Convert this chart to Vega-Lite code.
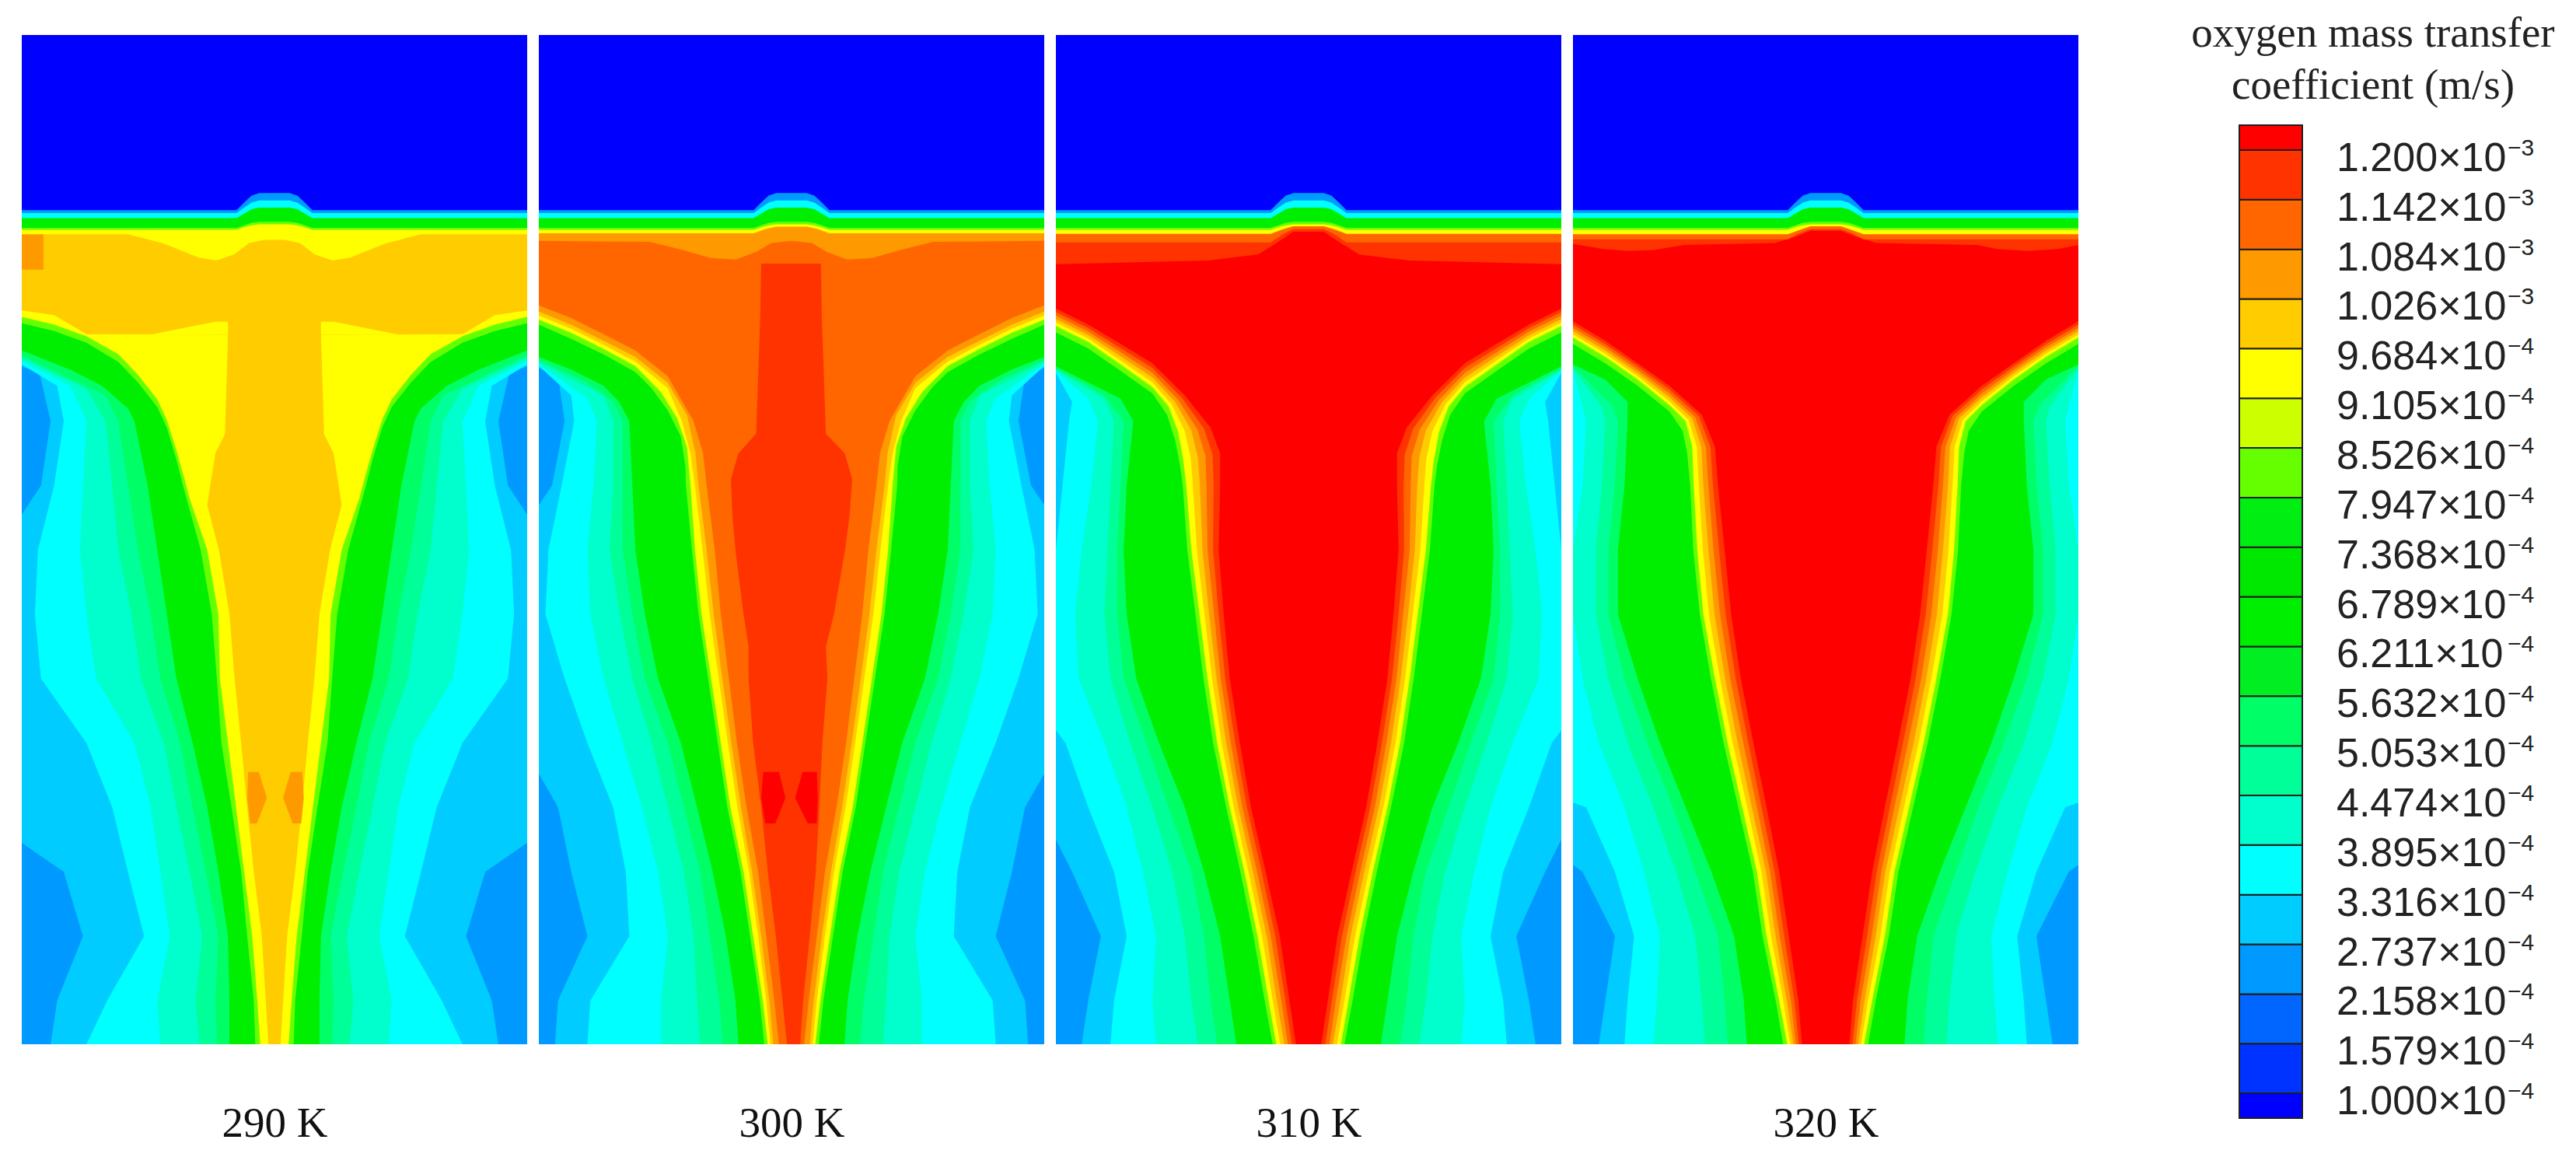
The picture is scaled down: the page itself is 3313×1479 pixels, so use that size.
{
"$schema":"https://vega.github.io/schema/vega-lite/v6.json",
"background":"white",
"padding":{"left":28,"top":16,"right":0,"bottom":0},
"autosize":{"type":"pad"},
"spacing":15,
"bounds":"flush",
"config":{"view":{"stroke":null}},
"datasets":{
"iface":[
{"c":13,"x":0,"l":161.4},{"c":13,"x":20,"l":161.4},{"c":13,"x":40,"l":161.4},{"c":13,"x":42.5,"l":161.4},{"c":13,"x":44,"l":161.9},{"c":13,"x":45.5,"l":162.3},{"c":13,"x":47,"l":162.5},{"c":13,"x":53,"l":162.5},{"c":13,"x":54.5,"l":162.3},{"c":13,"x":56,"l":161.9},{"c":13,"x":57.5,"l":161.4},{"c":13,"x":60,"l":161.4},{"c":13,"x":80,"l":161.4},{"c":13,"x":100,"l":161.4},
{"c":10,"x":0,"l":161.8},{"c":10,"x":20,"l":161.8},{"c":10,"x":40,"l":161.8},{"c":10,"x":42.5,"l":161.8},{"c":10,"x":44,"l":162.3},{"c":10,"x":45.5,"l":162.8},{"c":10,"x":47,"l":163.0},{"c":10,"x":53,"l":163.0},{"c":10,"x":54.5,"l":162.8},{"c":10,"x":56,"l":162.3},{"c":10,"x":57.5,"l":161.8},{"c":10,"x":60,"l":161.8},{"c":10,"x":80,"l":161.8},{"c":10,"x":100,"l":161.8},
{"c":5,"x":0,"l":163.7},{"c":5,"x":20,"l":163.7},{"c":5,"x":40,"l":163.7},{"c":5,"x":42.5,"l":163.7},{"c":5,"x":44,"l":164.6},{"c":5,"x":45.5,"l":165.5},{"c":5,"x":47,"l":165.8},{"c":5,"x":53,"l":165.8},{"c":5,"x":54.5,"l":165.5},{"c":5,"x":56,"l":164.6},{"c":5,"x":57.5,"l":163.7},{"c":5,"x":60,"l":163.7},{"c":5,"x":80,"l":163.7},{"c":5,"x":100,"l":163.7},
{"c":3,"x":0,"l":164.7},{"c":3,"x":20,"l":164.7},{"c":3,"x":40,"l":164.7},{"c":3,"x":42.5,"l":164.7},{"c":3,"x":44,"l":165.8},{"c":3,"x":45.5,"l":166.8},{"c":3,"x":47,"l":167.2},{"c":3,"x":53,"l":167.2},{"c":3,"x":54.5,"l":166.8},{"c":3,"x":56,"l":165.8},{"c":3,"x":57.5,"l":164.7},{"c":3,"x":60,"l":164.7},{"c":3,"x":80,"l":164.7},{"c":3,"x":100,"l":164.7},
{"c":0,"x":0,"l":165.3},{"c":0,"x":20,"l":165.3},{"c":0,"x":40,"l":165.3},{"c":0,"x":42.5,"l":165.3},{"c":0,"x":44,"l":166.8},{"c":0,"x":45.5,"l":168.2},{"c":0,"x":47,"l":168.7},{"c":0,"x":53,"l":168.7},{"c":0,"x":54.5,"l":168.2},{"c":0,"x":56,"l":166.8},{"c":0,"x":57.5,"l":165.3},{"c":0,"x":60,"l":165.3},{"c":0,"x":80,"l":165.3},{"c":0,"x":100,"l":165.3}
],
"v1":[
{"c":15,"x":0,"l":160.5},{"c":15,"x":21,"l":160.5},{"c":15,"x":28,"l":158.7},{"c":15,"x":35,"l":155.9},{"c":15,"x":38.5,"l":155.3},{"c":15,"x":42,"l":156.5},{"c":15,"x":45,"l":158.8},{"c":15,"x":48,"l":159.4},{"c":15,"x":52,"l":159.4},{"c":15,"x":55,"l":158.8},{"c":15,"x":58,"l":156.5},{"c":15,"x":61.5,"l":155.3},{"c":15,"x":65,"l":155.9},{"c":15,"x":72,"l":158.7},{"c":15,"x":79,"l":160.5},{"c":15,"x":100,"l":160.5}
],
"v2":[
{"c":17,"x":0,"l":159.2},{"c":17,"x":22,"l":159},{"c":17,"x":28,"l":157.5},{"c":17,"x":34,"l":155.8},{"c":17,"x":39,"l":155.5},{"c":17,"x":43,"l":157},{"c":17,"x":46,"l":158.8},{"c":17,"x":50,"l":159.2},{"c":17,"x":54,"l":158.8},{"c":17,"x":57,"l":157},{"c":17,"x":61,"l":155.5},{"c":17,"x":66,"l":155.8},{"c":17,"x":72,"l":157.5},{"c":17,"x":78,"l":159},{"c":17,"x":100,"l":159.2},
{"c":15,"x":0,"l":160.7},{"c":15,"x":42.5,"l":160.7},{"c":15,"x":45,"l":161.6},{"c":15,"x":47,"l":162},{"c":15,"x":53,"l":162},{"c":15,"x":55,"l":161.6},{"c":15,"x":57.5,"l":160.7},{"c":15,"x":100,"l":160.7}
],
"v3":[
{"c":19,"x":0,"l":154.6},{"c":19,"x":30,"l":155.3},{"c":19,"x":40,"l":156.5},{"c":19,"x":44,"l":159},{"c":19,"x":47,"l":161},{"c":19,"x":53,"l":161},{"c":19,"x":56,"l":159},{"c":19,"x":60,"l":156.5},{"c":19,"x":70,"l":155.3},{"c":19,"x":100,"l":154.6},
{"c":18,"x":0,"l":158.9},{"c":18,"x":42.5,"l":158.9},{"c":18,"x":45,"l":160.6},{"c":18,"x":47,"l":161.5},{"c":18,"x":53,"l":161.5},{"c":18,"x":55,"l":160.6},{"c":18,"x":57.5,"l":158.9},{"c":18,"x":100,"l":158.9},
{"c":15,"x":0,"l":160.6},{"c":15,"x":42.5,"l":160.6},{"c":15,"x":45,"l":161.5},{"c":15,"x":47,"l":162.1},{"c":15,"x":53,"l":162.1},{"c":15,"x":55,"l":161.5},{"c":15,"x":57.5,"l":160.6},{"c":15,"x":100,"l":160.6}
],
"v4":[
{"c":19,"x":0,"l":158.6},{"c":19,"x":6,"l":157.6},{"c":19,"x":11,"l":157.2},{"c":19,"x":16,"l":157.4},{"c":19,"x":22,"l":158.4},{"c":19,"x":40,"l":158.8},{"c":19,"x":44,"l":160},{"c":19,"x":47,"l":161.2},{"c":19,"x":53,"l":161.2},{"c":19,"x":56,"l":160},{"c":19,"x":60,"l":158.8},{"c":19,"x":80,"l":158.4},{"c":19,"x":84,"l":157.6},{"c":19,"x":90,"l":157.2},{"c":19,"x":96,"l":157.6},{"c":19,"x":100,"l":158.4},
{"c":18,"x":0,"l":159.5},{"c":18,"x":42.5,"l":159.5},{"c":18,"x":45,"l":160.8},{"c":18,"x":47,"l":161.5},{"c":18,"x":53,"l":161.5},{"c":18,"x":55,"l":160.8},{"c":18,"x":57.5,"l":159.5},{"c":18,"x":100,"l":159.5},
{"c":15,"x":0,"l":160.5},{"c":15,"x":42.5,"l":160.5},{"c":15,"x":45,"l":161.4},{"c":15,"x":47,"l":162.1},{"c":15,"x":53,"l":162.1},{"c":15,"x":55,"l":161.4},{"c":15,"x":57.5,"l":160.5},{"c":15,"x":100,"l":160.5}
],
"h1":[
{"c":3,"y":0,"a":0,"b":100},{"c":3,"y":162,"a":0,"b":100},
{"c":4,"y":140,"a":0,"b":100},{"c":4,"y":134.31,"a":0,"b":100},{"c":4,"y":133.04,"a":3.5,"b":96.5},{"c":4,"y":123.47,"a":5.7,"b":94.3},{"c":4,"y":110.71,"a":3.8,"b":96.2},{"c":4,"y":104.97,"a":0,"b":100},{"c":4,"y":39.92,"a":0,"b":100},{"c":4,"y":34.18,"a":8.3,"b":91.7},{"c":4,"y":21.43,"a":12.1,"b":87.9},{"c":4,"y":8.67,"a":7,"b":93},{"c":4,"y":0,"a":5.7,"b":94.3},
{"c":5,"y":140,"a":0,"b":100},{"c":5,"y":134.69,"a":0,"b":100},{"c":5,"y":130.48,"a":7,"b":93},{"c":5,"y":123.47,"a":8.3,"b":91.7},{"c":5,"y":110.71,"a":6.4,"b":93.6},{"c":5,"y":97.96,"a":3.2,"b":96.8},{"c":5,"y":85.2,"a":2.6,"b":97.4},{"c":5,"y":72.45,"a":3.8,"b":96.2},{"c":5,"y":59.69,"a":12.8,"b":87.2},{"c":5,"y":46.94,"a":17.9,"b":82.1},{"c":5,"y":34.18,"a":21,"b":79},{"c":5,"y":21.43,"a":24.2,"b":75.8},{"c":5,"y":8.67,"a":16.9,"b":83.1},{"c":5,"y":0,"a":12.8,"b":87.2},
{"c":6,"y":140,"a":0,"b":100},{"c":6,"y":135.46,"a":0,"b":100},{"c":6,"y":130.48,"a":9.6,"b":90.4},{"c":6,"y":123.47,"a":12.8,"b":87.2},{"c":6,"y":110.71,"a":12.1,"b":87.9},{"c":6,"y":97.96,"a":11.5,"b":88.5},{"c":6,"y":85.2,"a":12.8,"b":87.2},{"c":6,"y":72.45,"a":14.7,"b":85.3},{"c":6,"y":59.69,"a":22.3,"b":77.7},{"c":6,"y":46.94,"a":25.5,"b":74.5},{"c":6,"y":34.18,"a":27.4,"b":72.6},{"c":6,"y":21.43,"a":29.3,"b":70.7},{"c":6,"y":8.67,"a":26.8,"b":73.2},{"c":6,"y":0,"a":27.4,"b":72.6},
{"c":7,"y":140,"a":0,"b":100},{"c":7,"y":135.97,"a":0,"b":100},{"c":7,"y":129.85,"a":12.8,"b":87.2},{"c":7,"y":123.47,"a":16.6,"b":83.4},{"c":7,"y":110.71,"a":17.9,"b":82.1},{"c":7,"y":97.96,"a":19.1,"b":80.9},{"c":7,"y":85.2,"a":21.7,"b":78.3},{"c":7,"y":72.45,"a":23.6,"b":76.4},{"c":7,"y":59.69,"a":28.1,"b":71.9},{"c":7,"y":46.94,"a":30.6,"b":69.4},{"c":7,"y":34.18,"a":33.2,"b":66.8},{"c":7,"y":21.43,"a":35.7,"b":64.3},{"c":7,"y":8.67,"a":34.4,"b":65.6},{"c":7,"y":0,"a":35.1,"b":64.9},
{"c":8,"y":140,"a":0,"b":100},{"c":8,"y":136.48,"a":0,"b":100},{"c":8,"y":128.57,"a":16.6,"b":83.4},{"c":8,"y":123.47,"a":19.1,"b":80.9},{"c":8,"y":110.71,"a":21,"b":79},{"c":8,"y":97.96,"a":23,"b":77},{"c":8,"y":85.2,"a":25.5,"b":74.5},{"c":8,"y":72.45,"a":27.4,"b":72.6},{"c":8,"y":59.69,"a":31.3,"b":68.7},{"c":8,"y":46.94,"a":33.8,"b":66.2},{"c":8,"y":34.18,"a":36.4,"b":63.6},{"c":8,"y":21.43,"a":38.9,"b":61.1},{"c":8,"y":8.67,"a":38.3,"b":61.7},{"c":8,"y":0,"a":38.6,"b":61.4},
{"c":10,"y":162,"a":0,"b":100},{"c":10,"y":137.5,"a":0,"b":100},{"c":10,"y":133.67,"a":9.6,"b":90.4},{"c":10,"y":130.48,"a":15.9,"b":84.1},{"c":10,"y":126.02,"a":21,"b":79},{"c":10,"y":123.47,"a":22.3,"b":77.7},{"c":10,"y":110.71,"a":24.9,"b":75.1},{"c":10,"y":97.96,"a":26.8,"b":73.2},{"c":10,"y":85.2,"a":28.7,"b":71.3},{"c":10,"y":72.45,"a":30.6,"b":69.4},{"c":10,"y":59.69,"a":33.8,"b":66.2},{"c":10,"y":46.94,"a":36.7,"b":63.3},{"c":10,"y":34.18,"a":38.9,"b":61.1},{"c":10,"y":21.43,"a":40.8,"b":59.2},{"c":10,"y":8.67,"a":41.1,"b":58.9},{"c":10,"y":0,"a":41.1,"b":58.9},
{"c":13,"y":162,"a":0,"b":100},{"c":13,"y":142.86,"a":0,"b":100},{"c":13,"y":141.33,"a":6.4,"b":93.6},{"c":13,"y":139.03,"a":12.8,"b":87.2},{"c":13,"y":135.2,"a":19.1,"b":80.9},{"c":13,"y":131.12,"a":23,"b":77},{"c":13,"y":126.28,"a":26.8,"b":73.2},{"c":13,"y":122.19,"a":28.7,"b":71.3},{"c":13,"y":115.82,"a":30.6,"b":69.4},{"c":13,"y":110.71,"a":31.9,"b":68.1},{"c":13,"y":97.96,"a":35.4,"b":64.6},{"c":13,"y":85.2,"a":37.6,"b":62.4},{"c":13,"y":72.45,"a":38.6,"b":61.4},{"c":13,"y":59.69,"a":39.5,"b":60.5},{"c":13,"y":46.94,"a":41.5,"b":58.5},{"c":13,"y":34.18,"a":43.4,"b":56.6},{"c":13,"y":21.43,"a":44.6,"b":55.4},{"c":13,"y":8.67,"a":45.9,"b":54.1},{"c":13,"y":0,"a":46.2,"b":53.8},
{"c":15,"y":162,"a":0,"b":100},{"c":15,"y":144.13,"a":0,"b":100},{"c":15,"y":142.6,"a":6.4,"b":93.6},{"c":15,"y":140.31,"a":12.8,"b":87.2},{"c":15,"y":136.73,"a":19.1,"b":80.9},{"c":15,"y":132.65,"a":23,"b":77},{"c":15,"y":127.81,"a":26.8,"b":73.2},{"c":15,"y":123.72,"a":28.7,"b":71.3},{"c":15,"y":117.73,"a":30.6,"b":69.4},{"c":15,"y":111.99,"a":32.2,"b":67.8},{"c":15,"y":108.16,"a":33.2,"b":66.8},{"c":15,"y":97.96,"a":36.7,"b":63.3},{"c":15,"y":85.2,"a":38.9,"b":61.1},{"c":15,"y":72.45,"a":39.2,"b":60.8},{"c":15,"y":59.69,"a":40.8,"b":59.2},{"c":15,"y":46.94,"a":42.4,"b":57.6},{"c":15,"y":34.18,"a":44,"b":56},{"c":15,"y":21.43,"a":45.6,"b":54.4},{"c":15,"y":8.67,"a":46.6,"b":53.4},{"c":15,"y":0,"a":47.2,"b":52.8},
{"c":16,"y":162,"a":0,"b":100},{"c":16,"y":145.4,"a":0,"b":100},{"c":16,"y":144.5,"a":6.4,"b":93.6},{"c":16,"y":140.7,"a":12.8,"b":87.2},{"c":16,"y":140.6,"a":40.8,"b":59.2},{"c":16,"y":120.92,"a":40.2,"b":59.8},{"c":16,"y":117.09,"a":38.3,"b":61.7},{"c":16,"y":106.89,"a":36.7,"b":63.3},{"c":16,"y":97.96,"a":39,"b":61},{"c":16,"y":85.2,"a":41.1,"b":58.9},{"c":16,"y":72.45,"a":42.1,"b":57.9},{"c":16,"y":59.69,"a":43.4,"b":56.6},{"c":16,"y":46.94,"a":44.6,"b":55.4},{"c":16,"y":34.18,"a":45.9,"b":54.1},{"c":16,"y":21.43,"a":47.5,"b":52.5},{"c":16,"y":0,"a":48.8,"b":51.2},
{"c":15,"g":"L","y":143.2,"a":38.3,"b":40.8},{"c":15,"g":"L","y":140.65,"a":25.5,"b":40.8},
{"c":15,"g":"R","y":143.2,"a":59.2,"b":61.7},{"c":15,"g":"R","y":140.65,"a":59.2,"b":74.5},
{"c":17,"g":"o1","y":53.95,"a":44.8,"b":46.9},{"c":17,"g":"o1","y":48.85,"a":44.6,"b":48.5},{"c":17,"g":"o1","y":43.75,"a":45.2,"b":46.5},
{"c":17,"g":"o2","y":53.95,"a":53.2,"b":55.5},{"c":17,"g":"o2","y":48.85,"a":51.7,"b":55.8},{"c":17,"g":"o2","y":43.75,"a":53.6,"b":55.3},
{"c":17,"g":"o3","y":160.5,"a":0,"b":4.3},{"c":17,"g":"o3","y":153.5,"a":0,"b":4.3}
],
"h2":[
{"c":3,"y":0,"a":0,"b":100},{"c":3,"y":162,"a":0,"b":100},
{"c":4,"y":140,"a":0,"b":100},{"c":4,"y":134,"a":0,"b":100},{"c":4,"y":132.4,"a":3.8,"b":96.2},{"c":4,"y":123.5,"a":5.1,"b":94.9},{"c":4,"y":110.7,"a":2.6,"b":97.4},{"c":4,"y":106.9,"a":0,"b":100},{"c":4,"y":53.6,"a":0,"b":100},{"c":4,"y":46.94,"a":3.8,"b":96.2},{"c":4,"y":34.18,"a":6.4,"b":93.6},{"c":4,"y":21.43,"a":9.6,"b":90.4},{"c":4,"y":8.67,"a":3.8,"b":96.2},{"c":4,"y":0,"a":3.2,"b":96.8},
{"c":5,"y":140,"a":0,"b":100},{"c":5,"y":134.4,"a":0,"b":100},{"c":5,"y":128.6,"a":6.4,"b":93.6},{"c":5,"y":123.5,"a":7,"b":93},{"c":5,"y":110.7,"a":4.5,"b":95.5},{"c":5,"y":97.96,"a":1.9,"b":98.1},{"c":5,"y":85.2,"a":1.3,"b":98.7},{"c":5,"y":72.45,"a":5.1,"b":94.9},{"c":5,"y":59.69,"a":9.6,"b":90.4},{"c":5,"y":46.94,"a":14.7,"b":85.3},{"c":5,"y":34.18,"a":17.2,"b":82.8},{"c":5,"y":21.43,"a":17.9,"b":82.1},{"c":5,"y":8.67,"a":10.2,"b":89.8},{"c":5,"y":0,"a":9.6,"b":90.4},
{"c":6,"y":140,"a":0,"b":100},{"c":6,"y":134.8,"a":0,"b":100},{"c":6,"y":128,"a":9.6,"b":90.4},{"c":6,"y":123.5,"a":11.5,"b":88.5},{"c":6,"y":110.7,"a":10.8,"b":89.2},{"c":6,"y":97.96,"a":9.6,"b":90.4},{"c":6,"y":85.2,"a":10.2,"b":89.8},{"c":6,"y":72.45,"a":12.8,"b":87.2},{"c":6,"y":59.69,"a":16.6,"b":83.4},{"c":6,"y":46.94,"a":20.4,"b":79.6},{"c":6,"y":34.18,"a":23.6,"b":76.4},{"c":6,"y":21.43,"a":25.5,"b":74.5},{"c":6,"y":8.67,"a":24.2,"b":75.8},{"c":6,"y":0,"a":24.2,"b":75.8},
{"c":7,"y":140,"a":0,"b":100},{"c":7,"y":135.2,"a":0,"b":100},{"c":7,"y":128.6,"a":12.8,"b":87.2},{"c":7,"y":123.5,"a":14.7,"b":85.3},{"c":7,"y":110.7,"a":14.7,"b":85.3},{"c":7,"y":97.96,"a":14,"b":86},{"c":7,"y":85.2,"a":16,"b":84},{"c":7,"y":72.45,"a":18.5,"b":81.5},{"c":7,"y":59.69,"a":22.3,"b":77.7},{"c":7,"y":46.94,"a":25.5,"b":74.5},{"c":7,"y":34.18,"a":28.7,"b":71.3},{"c":7,"y":21.43,"a":30.6,"b":69.4},{"c":7,"y":8.67,"a":31.3,"b":68.7},{"c":7,"y":0,"a":31.9,"b":68.1},
{"c":8,"y":140,"a":0,"b":100},{"c":8,"y":135.6,"a":0,"b":100},{"c":8,"y":131.1,"a":9.6,"b":90.4},{"c":8,"y":127.3,"a":14.7,"b":85.3},{"c":8,"y":123.5,"a":16.6,"b":83.4},{"c":8,"y":110.7,"a":16.6,"b":83.4},{"c":8,"y":97.96,"a":16.6,"b":83.4},{"c":8,"y":85.2,"a":18.5,"b":81.5},{"c":8,"y":72.45,"a":21,"b":79},{"c":8,"y":59.69,"a":25.5,"b":74.5},{"c":8,"y":46.94,"a":28.7,"b":71.3},{"c":8,"y":34.18,"a":31.9,"b":68.1},{"c":8,"y":21.43,"a":33.8,"b":66.2},{"c":8,"y":8.67,"a":35.7,"b":64.3},{"c":8,"y":0,"a":36.4,"b":63.6},
{"c":10,"y":162,"a":0,"b":100},{"c":10,"y":136.2,"a":0,"b":100},{"c":10,"y":133.7,"a":6.4,"b":93.6},{"c":10,"y":130.5,"a":12.8,"b":87.2},{"c":10,"y":127.3,"a":15.9,"b":84.1},{"c":10,"y":123.5,"a":17.9,"b":82.1},{"c":10,"y":110.7,"a":18.5,"b":81.5},{"c":10,"y":97.96,"a":19.1,"b":80.9},{"c":10,"y":85.2,"a":21,"b":79},{"c":10,"y":72.45,"a":23.6,"b":76.4},{"c":10,"y":59.69,"a":28.1,"b":71.9},{"c":10,"y":46.94,"a":31.3,"b":68.7},{"c":10,"y":34.18,"a":34.4,"b":65.6},{"c":10,"y":21.43,"a":37,"b":63},{"c":10,"y":8.67,"a":38.9,"b":61.1},{"c":10,"y":0,"a":39.5,"b":60.5},
{"c":13,"y":162,"a":0,"b":100},{"c":13,"y":142.6,"a":0,"b":100},{"c":13,"y":139.8,"a":6.4,"b":93.6},{"c":13,"y":136.7,"a":12.8,"b":87.2},{"c":13,"y":133.2,"a":19.1,"b":80.9},{"c":13,"y":130,"a":22.3,"b":77.7},{"c":13,"y":125.6,"a":25.5,"b":74.5},{"c":13,"y":120.4,"a":28.1,"b":71.9},{"c":13,"y":114.5,"a":29,"b":71},{"c":13,"y":110.7,"a":29.1,"b":70.9},{"c":13,"y":97.96,"a":30.3,"b":69.7},{"c":13,"y":85.2,"a":31.6,"b":68.4},{"c":13,"y":72.45,"a":33.5,"b":66.5},{"c":13,"y":59.69,"a":35.4,"b":64.6},{"c":13,"y":46.94,"a":37.3,"b":62.7},{"c":13,"y":34.18,"a":39.9,"b":60.1},{"c":13,"y":21.43,"a":41.8,"b":58.2},{"c":13,"y":8.67,"a":43.7,"b":56.3},{"c":13,"y":0,"a":44.6,"b":55.4},
{"c":15,"y":162,"a":0,"b":100},{"c":15,"y":143.6,"a":0,"b":100},{"c":15,"y":141,"a":6.4,"b":93.6},{"c":15,"y":137.8,"a":12.8,"b":87.2},{"c":15,"y":134.4,"a":19.1,"b":80.9},{"c":15,"y":129.2,"a":24.2,"b":75.8},{"c":15,"y":124,"a":27.4,"b":72.6},{"c":15,"y":118.4,"a":29.3,"b":70.7},{"c":15,"y":110.7,"a":30,"b":70},{"c":15,"y":97.96,"a":30.9,"b":69.1},{"c":15,"y":85.2,"a":32.2,"b":67.8},{"c":15,"y":72.45,"a":34.1,"b":65.9},{"c":15,"y":59.69,"a":36,"b":64},{"c":15,"y":46.94,"a":37.9,"b":62.1},{"c":15,"y":34.18,"a":40.5,"b":59.5},{"c":15,"y":21.43,"a":42.4,"b":57.6},{"c":15,"y":8.67,"a":44.3,"b":55.7},{"c":15,"y":0,"a":45.3,"b":54.7},
{"c":16,"y":162,"a":0,"b":100},{"c":16,"y":144.4,"a":0,"b":100},{"c":16,"y":141.8,"a":6.4,"b":93.6},{"c":16,"y":138.6,"a":12.8,"b":87.2},{"c":16,"y":135.3,"a":19.1,"b":80.9},{"c":16,"y":130,"a":25.5,"b":74.5},{"c":16,"y":123.5,"a":28.3,"b":71.7},{"c":16,"y":117.1,"a":30,"b":70},{"c":16,"y":110.7,"a":30.9,"b":69.1},{"c":16,"y":97.96,"a":32.4,"b":67.6},{"c":16,"y":85.2,"a":33.8,"b":66.2},{"c":16,"y":72.45,"a":35.6,"b":64.4},{"c":16,"y":59.69,"a":37.4,"b":62.6},{"c":16,"y":46.94,"a":39.3,"b":60.7},{"c":16,"y":34.18,"a":41.6,"b":58.4},{"c":16,"y":21.43,"a":43.4,"b":56.6},{"c":16,"y":8.67,"a":45,"b":55},{"c":16,"y":0,"a":45.8,"b":54.2},
{"c":17,"y":162,"a":0,"b":100},{"c":17,"y":145.2,"a":0,"b":100},{"c":17,"y":142.6,"a":6.4,"b":93.6},{"c":17,"y":139.4,"a":12.8,"b":87.2},{"c":17,"y":136.2,"a":19.1,"b":80.9},{"c":17,"y":131.1,"a":25.5,"b":74.5},{"c":17,"y":124.7,"a":29.3,"b":70.7},{"c":17,"y":117.1,"a":31,"b":69},{"c":17,"y":110.7,"a":31.6,"b":68.4},{"c":17,"y":97.96,"a":33.2,"b":66.8},{"c":17,"y":85.2,"a":34.6,"b":65.4},{"c":17,"y":72.45,"a":36.3,"b":63.7},{"c":17,"y":59.69,"a":38.1,"b":61.9},{"c":17,"y":46.94,"a":40,"b":60},{"c":17,"y":34.18,"a":42.2,"b":57.8},{"c":17,"y":21.43,"a":44,"b":56},{"c":17,"y":8.67,"a":45.6,"b":54.4},{"c":17,"y":0,"a":46.4,"b":53.6},
{"c":18,"y":162,"a":0,"b":100},{"c":18,"y":146.4,"a":0,"b":100},{"c":18,"y":143.9,"a":6.4,"b":93.6},{"c":18,"y":140.7,"a":12.8,"b":87.2},{"c":18,"y":137.5,"a":19.1,"b":80.9},{"c":18,"y":132.4,"a":25.5,"b":74.5},{"c":18,"y":123.5,"a":30.6,"b":69.4},{"c":18,"y":117.1,"a":32.5,"b":67.5},{"c":18,"y":110.7,"a":33.2,"b":66.8},{"c":18,"y":97.96,"a":34.8,"b":65.2},{"c":18,"y":85.2,"a":36,"b":64},{"c":18,"y":72.45,"a":37.6,"b":62.4},{"c":18,"y":59.69,"a":39.2,"b":60.8},{"c":18,"y":46.94,"a":41.1,"b":58.9},{"c":18,"y":34.18,"a":43.4,"b":56.6},{"c":18,"y":21.43,"a":45,"b":55},{"c":18,"y":8.67,"a":46.6,"b":53.4},{"c":18,"y":0,"a":47.5,"b":52.5},
{"c":19,"y":154.7,"a":44,"b":55.8},{"c":19,"y":143.9,"a":43.8,"b":56},{"c":19,"y":121,"a":43,"b":56.8},{"c":19,"y":117.1,"a":39.5,"b":60.5},{"c":19,"y":111.99,"a":38,"b":62},{"c":19,"y":104.97,"a":38.3,"b":61.5},{"c":19,"y":97.96,"a":38.9,"b":60.6},{"c":19,"y":85.2,"a":40.5,"b":58.4},{"c":19,"y":78.83,"a":41.5,"b":56.8},{"c":19,"y":72.45,"a":41.5,"b":57.1},{"c":19,"y":59.69,"a":42.4,"b":56.1},{"c":19,"y":46.94,"a":44,"b":55.5},{"c":19,"y":34.18,"a":45.3,"b":54.8},{"c":19,"y":21.43,"a":46.9,"b":53.6},{"c":19,"y":8.67,"a":48.2,"b":52.3},{"c":19,"y":0,"a":49.1,"b":51.7},
{"c":20,"g":"r1","y":53.95,"a":44.4,"b":47.5},{"c":20,"g":"r1","y":48.85,"a":44,"b":48.8},{"c":20,"g":"r1","y":43.75,"a":44.8,"b":46.8},
{"c":20,"g":"r2","y":53.95,"a":52.2,"b":55},{"c":20,"g":"r2","y":48.85,"a":50.7,"b":55.2},{"c":20,"g":"r2","y":43.75,"a":53.2,"b":55}
],
"h3":[
{"c":3,"y":0,"a":0,"b":100},{"c":3,"y":162,"a":0,"b":100},
{"c":4,"y":140,"a":0,"b":100},{"c":4,"y":40.56,"a":0,"b":100},{"c":4,"y":34.18,"a":3.2,"b":96.8},{"c":4,"y":21.43,"a":8.9,"b":91.1},{"c":4,"y":8.67,"a":6.4,"b":93.6},{"c":4,"y":0,"a":5.1,"b":94.9},
{"c":5,"y":140,"a":0,"b":100},{"c":5,"y":133.04,"a":0,"b":100},{"c":5,"y":127.3,"a":3.2,"b":96.8},{"c":5,"y":123.47,"a":2.6,"b":97.4},{"c":5,"y":110.71,"a":1.3,"b":98.7},{"c":5,"y":97.96,"a":0,"b":100},{"c":5,"y":62.2,"a":0,"b":100},{"c":5,"y":59.69,"a":1.9,"b":98.1},{"c":5,"y":46.94,"a":6.4,"b":93.6},{"c":5,"y":34.18,"a":11.5,"b":88.5},{"c":5,"y":21.43,"a":14,"b":86},{"c":5,"y":8.67,"a":11.5,"b":88.5},{"c":5,"y":0,"a":10.8,"b":89.2},
{"c":6,"y":140,"a":0,"b":100},{"c":6,"y":133.42,"a":0,"b":100},{"c":6,"y":127.93,"a":6.4,"b":93.6},{"c":6,"y":123.47,"a":8.3,"b":91.7},{"c":6,"y":110.71,"a":7,"b":93},{"c":6,"y":97.96,"a":5.1,"b":94.9},{"c":6,"y":85.2,"a":3.8,"b":96.2},{"c":6,"y":72.45,"a":4.5,"b":95.5},{"c":6,"y":59.69,"a":9.6,"b":90.4},{"c":6,"y":46.94,"a":14,"b":86},{"c":6,"y":34.18,"a":17.2,"b":82.8},{"c":6,"y":21.43,"a":19.8,"b":80.2},{"c":6,"y":8.67,"a":19.1,"b":80.9},{"c":6,"y":0,"a":19.8,"b":80.2},
{"c":7,"y":140,"a":0,"b":100},{"c":7,"y":133.67,"a":0,"b":100},{"c":7,"y":127.93,"a":9.6,"b":90.4},{"c":7,"y":123.47,"a":11.5,"b":88.5},{"c":7,"y":110.71,"a":10.8,"b":89.2},{"c":7,"y":97.96,"a":10.2,"b":89.8},{"c":7,"y":85.2,"a":9.6,"b":90.4},{"c":7,"y":72.45,"a":10.8,"b":89.2},{"c":7,"y":59.69,"a":14.7,"b":85.3},{"c":7,"y":46.94,"a":19.1,"b":80.9},{"c":7,"y":34.18,"a":23,"b":77},{"c":7,"y":21.43,"a":25.5,"b":74.5},{"c":7,"y":8.67,"a":26.8,"b":73.2},{"c":7,"y":0,"a":28.1,"b":71.9},
{"c":8,"y":140,"a":0,"b":100},{"c":8,"y":133.93,"a":0,"b":100},{"c":8,"y":128.57,"a":9.6,"b":90.4},{"c":8,"y":123.47,"a":13.4,"b":86.6},{"c":8,"y":110.71,"a":12.8,"b":87.2},{"c":8,"y":97.96,"a":12.1,"b":87.9},{"c":8,"y":85.2,"a":12.1,"b":87.9},{"c":8,"y":72.45,"a":13.4,"b":86.6},{"c":8,"y":59.69,"a":17.9,"b":82.1},{"c":8,"y":46.94,"a":22.3,"b":77.7},{"c":8,"y":34.18,"a":26.8,"b":73.2},{"c":8,"y":21.43,"a":29.3,"b":70.7},{"c":8,"y":8.67,"a":30.6,"b":69.4},{"c":8,"y":0,"a":31.9,"b":68.1},
{"c":10,"y":162,"a":0,"b":100},{"c":10,"y":134.31,"a":0,"b":100},{"c":10,"y":131.12,"a":6.4,"b":93.6},{"c":10,"y":127.93,"a":12.8,"b":87.2},{"c":10,"y":123.47,"a":15.3,"b":84.7},{"c":10,"y":110.71,"a":14,"b":86},{"c":10,"y":97.96,"a":13.4,"b":86.6},{"c":10,"y":85.2,"a":14,"b":86},{"c":10,"y":72.45,"a":15.9,"b":84.1},{"c":10,"y":59.69,"a":20.4,"b":79.6},{"c":10,"y":46.94,"a":25.5,"b":74.5},{"c":10,"y":34.18,"a":29.3,"b":70.7},{"c":10,"y":21.43,"a":32.5,"b":67.5},{"c":10,"y":8.67,"a":34.4,"b":65.6},{"c":10,"y":0,"a":35.7,"b":64.3},
{"c":13,"y":162,"a":0,"b":100},{"c":13,"y":141.07,"a":0,"b":100},{"c":13,"y":137.88,"a":6.4,"b":93.6},{"c":13,"y":133.42,"a":12.8,"b":87.2},{"c":13,"y":128.95,"a":19.1,"b":80.9},{"c":13,"y":124.74,"a":22,"b":78},{"c":13,"y":119.64,"a":23.6,"b":76.4},{"c":13,"y":114.54,"a":24.6,"b":75.4},{"c":13,"y":110.71,"a":25.1,"b":74.9},{"c":13,"y":97.96,"a":26,"b":74},{"c":13,"y":85.2,"a":27.6,"b":72.4},{"c":13,"y":72.45,"a":29.2,"b":70.8},{"c":13,"y":59.69,"a":31.1,"b":68.9},{"c":13,"y":46.94,"a":33.7,"b":66.3},{"c":13,"y":34.18,"a":36.5,"b":63.5},{"c":13,"y":21.43,"a":39.1,"b":60.9},{"c":13,"y":8.67,"a":41.3,"b":58.7},{"c":13,"y":0,"a":42.9,"b":57.1},
{"c":15,"y":162,"a":0,"b":100},{"c":15,"y":142.35,"a":0,"b":100},{"c":15,"y":139.16,"a":6.4,"b":93.6},{"c":15,"y":134.69,"a":12.8,"b":87.2},{"c":15,"y":130.23,"a":19.1,"b":80.9},{"c":15,"y":126.4,"a":22.3,"b":77.7},{"c":15,"y":121.3,"a":24.2,"b":75.8},{"c":15,"y":115.82,"a":25.2,"b":74.8},{"c":15,"y":110.71,"a":25.8,"b":74.2},{"c":15,"y":97.96,"a":26.8,"b":73.2},{"c":15,"y":85.2,"a":28.4,"b":71.6},{"c":15,"y":72.45,"a":30,"b":70},{"c":15,"y":59.69,"a":31.9,"b":68.1},{"c":15,"y":46.94,"a":34.4,"b":65.6},{"c":15,"y":34.18,"a":37.3,"b":62.7},{"c":15,"y":21.43,"a":39.9,"b":60.1},{"c":15,"y":8.67,"a":42.1,"b":57.9},{"c":15,"y":0,"a":43.6,"b":56.4},
{"c":16,"y":162,"a":0,"b":100},{"c":16,"y":143.04,"a":0,"b":100},{"c":16,"y":139.85,"a":6.4,"b":93.6},{"c":16,"y":135.51,"a":12.8,"b":87.2},{"c":16,"y":131.17,"a":19.1,"b":80.9},{"c":16,"y":126.83,"a":22.9,"b":77.1},{"c":16,"y":121.48,"a":25.5,"b":74.5},{"c":16,"y":116.07,"a":26.7,"b":73.3},{"c":16,"y":110.71,"a":27.1,"b":72.9},{"c":16,"y":97.96,"a":27.9,"b":72.1},{"c":16,"y":85.2,"a":29.4,"b":70.6},{"c":16,"y":72.45,"a":30.9,"b":69.1},{"c":16,"y":59.69,"a":32.8,"b":67.2},{"c":16,"y":46.94,"a":35.2,"b":64.8},{"c":16,"y":34.18,"a":38.1,"b":61.9},{"c":16,"y":21.43,"a":40.8,"b":59.2},{"c":16,"y":8.67,"a":42.9,"b":57.1},{"c":16,"y":0,"a":44.4,"b":55.6},
{"c":17,"y":162,"a":0,"b":100},{"c":17,"y":143.73,"a":0,"b":100},{"c":17,"y":140.54,"a":6.4,"b":93.6},{"c":17,"y":136.33,"a":12.8,"b":87.2},{"c":17,"y":132.12,"a":19.1,"b":80.9},{"c":17,"y":127.27,"a":23.6,"b":76.4},{"c":17,"y":121.66,"a":26.8,"b":73.2},{"c":17,"y":116.33,"a":28.1,"b":71.9},{"c":17,"y":110.71,"a":28.5,"b":71.5},{"c":17,"y":97.96,"a":29,"b":71},{"c":17,"y":85.2,"a":30.3,"b":69.7},{"c":17,"y":72.45,"a":31.8,"b":68.2},{"c":17,"y":59.69,"a":33.7,"b":66.3},{"c":17,"y":46.94,"a":36.1,"b":63.9},{"c":17,"y":34.18,"a":39,"b":61},{"c":17,"y":21.43,"a":41.7,"b":58.3},{"c":17,"y":8.67,"a":43.7,"b":56.3},{"c":17,"y":0,"a":45.2,"b":54.8},
{"c":18,"y":162,"a":0,"b":100},{"c":18,"y":144.41,"a":0,"b":100},{"c":18,"y":141.22,"a":6.4,"b":93.6},{"c":18,"y":137.14,"a":12.8,"b":87.2},{"c":18,"y":133.06,"a":19.1,"b":80.9},{"c":18,"y":127.7,"a":24.2,"b":75.8},{"c":18,"y":121.83,"a":28,"b":72},{"c":18,"y":116.58,"a":29.6,"b":70.4},{"c":18,"y":110.71,"a":29.8,"b":70.2},{"c":18,"y":97.96,"a":30,"b":70},{"c":18,"y":85.2,"a":31.3,"b":68.7},{"c":18,"y":72.45,"a":32.6,"b":67.4},{"c":18,"y":59.69,"a":34.6,"b":65.4},{"c":18,"y":46.94,"a":36.9,"b":63.1},{"c":18,"y":34.18,"a":39.8,"b":60.2},{"c":18,"y":21.43,"a":42.5,"b":57.5},{"c":18,"y":8.67,"a":44.6,"b":55.4},{"c":18,"y":0,"a":45.9,"b":54.1},
{"c":19,"y":162,"a":0,"b":100},{"c":19,"y":145.1,"a":0,"b":100},{"c":19,"y":141.91,"a":6.4,"b":93.6},{"c":19,"y":137.96,"a":12.8,"b":87.2},{"c":19,"y":134.01,"a":19.1,"b":80.9},{"c":19,"y":128.14,"a":24.9,"b":75.1},{"c":19,"y":122.01,"a":29.3,"b":70.7},{"c":19,"y":116.84,"a":31,"b":69},{"c":19,"y":110.71,"a":31.2,"b":68.8},{"c":19,"y":97.96,"a":31.1,"b":68.9},{"c":19,"y":85.2,"a":32.2,"b":67.8},{"c":19,"y":72.45,"a":33.5,"b":66.5},{"c":19,"y":59.69,"a":35.5,"b":64.5},{"c":19,"y":46.94,"a":37.8,"b":62.2},{"c":19,"y":34.18,"a":40.7,"b":59.3},{"c":19,"y":21.43,"a":43.4,"b":56.6},{"c":19,"y":8.67,"a":45.4,"b":54.6},{"c":19,"y":0,"a":46.7,"b":53.3},
{"c":20,"y":162,"a":0,"b":100},{"c":20,"y":145.79,"a":0,"b":100},{"c":20,"y":142.6,"a":6.4,"b":93.6},{"c":20,"y":138.78,"a":12.8,"b":87.2},{"c":20,"y":134.95,"a":19.1,"b":80.9},{"c":20,"y":128.57,"a":25.5,"b":74.5},{"c":20,"y":122.19,"a":30.6,"b":69.4},{"c":20,"y":117.09,"a":32.5,"b":67.5},{"c":20,"y":110.71,"a":32.5,"b":67.5},{"c":20,"y":97.96,"a":32.2,"b":67.8},{"c":20,"y":85.2,"a":33.2,"b":66.8},{"c":20,"y":72.45,"a":34.4,"b":65.6},{"c":20,"y":59.69,"a":36.4,"b":63.6},{"c":20,"y":46.94,"a":38.6,"b":61.4},{"c":20,"y":34.18,"a":41.5,"b":58.5},{"c":20,"y":21.43,"a":44.3,"b":55.7},{"c":20,"y":8.67,"a":46.2,"b":53.8},{"c":20,"y":0,"a":47.5,"b":52.5}
],
"h4":[
{"c":3,"y":0,"a":0,"b":100},{"c":3,"y":162,"a":0,"b":100},
{"c":4,"y":140,"a":0,"b":100},{"c":4,"y":35.5,"a":0,"b":100},{"c":4,"y":34.18,"a":1.9,"b":98.1},{"c":4,"y":21.43,"a":8.3,"b":91.7},{"c":4,"y":8.67,"a":6.4,"b":93.6},{"c":4,"y":0,"a":5.1,"b":94.9},
{"c":5,"y":140,"a":0,"b":100},{"c":5,"y":47.9,"a":0,"b":100},{"c":5,"y":46.94,"a":2.6,"b":97.4},{"c":5,"y":34.18,"a":8.3,"b":91.7},{"c":5,"y":21.43,"a":12.1,"b":87.9},{"c":5,"y":8.67,"a":10.8,"b":89.2},{"c":5,"y":0,"a":10.2,"b":89.8},
{"c":6,"y":140,"a":0,"b":100},{"c":6,"y":133.54,"a":0,"b":100},{"c":6,"y":123.47,"a":2.6,"b":97.4},{"c":6,"y":110.71,"a":1.9,"b":98.1},{"c":6,"y":97.96,"a":0,"b":100},{"c":6,"y":85.2,"a":0,"b":100},{"c":6,"y":72.45,"a":1.9,"b":98.1},{"c":6,"y":59.69,"a":5.1,"b":94.9},{"c":6,"y":46.94,"a":10.2,"b":89.8},{"c":6,"y":34.18,"a":14,"b":86},{"c":6,"y":21.43,"a":17.2,"b":82.8},{"c":6,"y":8.67,"a":16.6,"b":83.4},{"c":6,"y":0,"a":15.9,"b":84.1},
{"c":7,"y":140,"a":0,"b":100},{"c":7,"y":133.93,"a":0,"b":100},{"c":7,"y":126.28,"a":5.7,"b":94.3},{"c":7,"y":123.47,"a":6.4,"b":93.6},{"c":7,"y":110.71,"a":5.7,"b":94.3},{"c":7,"y":97.96,"a":4.5,"b":95.5},{"c":7,"y":85.2,"a":4.5,"b":95.5},{"c":7,"y":72.45,"a":7,"b":93},{"c":7,"y":59.69,"a":10.8,"b":89.2},{"c":7,"y":46.94,"a":15.9,"b":84.1},{"c":7,"y":34.18,"a":20.4,"b":79.6},{"c":7,"y":21.43,"a":24.2,"b":75.8},{"c":7,"y":8.67,"a":25.5,"b":74.5},{"c":7,"y":0,"a":26.1,"b":73.9},
{"c":8,"y":140,"a":0,"b":100},{"c":8,"y":134.31,"a":0,"b":100},{"c":8,"y":126.66,"a":7.7,"b":92.3},{"c":8,"y":123.47,"a":8.9,"b":91.1},{"c":8,"y":110.71,"a":8.3,"b":91.7},{"c":8,"y":97.96,"a":7,"b":93},{"c":8,"y":85.2,"a":7,"b":93},{"c":8,"y":72.45,"a":10.2,"b":89.8},{"c":8,"y":59.69,"a":14.7,"b":85.3},{"c":8,"y":46.94,"a":19.8,"b":80.2},{"c":8,"y":34.18,"a":24.2,"b":75.8},{"c":8,"y":21.43,"a":28.7,"b":71.3},{"c":8,"y":8.67,"a":30,"b":70},{"c":8,"y":0,"a":30.6,"b":69.4},
{"c":10,"y":162,"a":0,"b":100},{"c":10,"y":134.69,"a":0,"b":100},{"c":10,"y":131.76,"a":6.4,"b":93.6},{"c":10,"y":127.3,"a":10.8,"b":89.2},{"c":10,"y":123.47,"a":10.8,"b":89.2},{"c":10,"y":110.71,"a":10.2,"b":89.8},{"c":10,"y":97.96,"a":8.9,"b":91.1},{"c":10,"y":85.2,"a":8.9,"b":91.1},{"c":10,"y":72.45,"a":12.8,"b":87.2},{"c":10,"y":59.69,"a":17.2,"b":82.8},{"c":10,"y":46.94,"a":22.3,"b":77.7},{"c":10,"y":34.18,"a":27.4,"b":72.6},{"c":10,"y":21.43,"a":31.9,"b":68.1},{"c":10,"y":8.67,"a":33.8,"b":66.2},{"c":10,"y":0,"a":34.4,"b":65.6},
{"c":13,"y":162,"a":0,"b":100},{"c":13,"y":138.78,"a":0,"b":100},{"c":13,"y":134.95,"a":6.4,"b":93.6},{"c":13,"y":130.48,"a":12.8,"b":87.2},{"c":13,"y":125.38,"a":19.1,"b":80.9},{"c":13,"y":121.56,"a":21.7,"b":78.3},{"c":13,"y":117.09,"a":22.6,"b":77.4},{"c":13,"y":110.71,"a":23.2,"b":76.8},{"c":13,"y":97.96,"a":23.8,"b":76.2},{"c":13,"y":85.2,"a":25.1,"b":74.9},{"c":13,"y":72.45,"a":27.3,"b":72.7},{"c":13,"y":59.69,"a":29.8,"b":70.2},{"c":13,"y":46.94,"a":32.7,"b":67.3},{"c":13,"y":34.18,"a":35.6,"b":64.4},{"c":13,"y":21.43,"a":37.5,"b":62.5},{"c":13,"y":8.67,"a":40.1,"b":59.9},{"c":13,"y":0,"a":41.6,"b":58.4},
{"c":15,"y":162,"a":0,"b":100},{"c":15,"y":140.05,"a":0,"b":100},{"c":15,"y":136.22,"a":6.4,"b":93.6},{"c":15,"y":131.76,"a":12.8,"b":87.2},{"c":15,"y":126.66,"a":19.1,"b":80.9},{"c":15,"y":123.47,"a":22.3,"b":77.7},{"c":15,"y":118.37,"a":23.6,"b":76.4},{"c":15,"y":110.71,"a":23.9,"b":76.1},{"c":15,"y":97.96,"a":24.6,"b":75.4},{"c":15,"y":85.2,"a":25.8,"b":74.2},{"c":15,"y":72.45,"a":28.1,"b":71.9},{"c":15,"y":59.69,"a":30.6,"b":69.4},{"c":15,"y":46.94,"a":33.5,"b":66.5},{"c":15,"y":34.18,"a":36.4,"b":63.6},{"c":15,"y":21.43,"a":38.3,"b":61.7},{"c":15,"y":8.67,"a":40.8,"b":59.2},{"c":15,"y":0,"a":42.4,"b":57.6},
{"c":16,"y":162,"a":0,"b":100},{"c":16,"y":140.69,"a":0,"b":100},{"c":16,"y":136.86,"a":6.4,"b":93.6},{"c":16,"y":132.4,"a":12.8,"b":87.2},{"c":16,"y":127.42,"a":19.1,"b":80.9},{"c":16,"y":123.72,"a":22.9,"b":77.1},{"c":16,"y":118.37,"a":24.5,"b":75.5},{"c":16,"y":110.71,"a":24.9,"b":75.1},{"c":16,"y":97.96,"a":25.7,"b":74.3},{"c":16,"y":85.2,"a":26.9,"b":73.1},{"c":16,"y":72.45,"a":29.1,"b":70.9},{"c":16,"y":59.69,"a":31.6,"b":68.4},{"c":16,"y":46.94,"a":34.5,"b":65.5},{"c":16,"y":34.18,"a":37.3,"b":62.7},{"c":16,"y":21.43,"a":39.2,"b":60.8},{"c":16,"y":8.67,"a":41.6,"b":58.4},{"c":16,"y":0,"a":43,"b":57},
{"c":17,"y":162,"a":0,"b":100},{"c":17,"y":141.33,"a":0,"b":100},{"c":17,"y":137.5,"a":6.4,"b":93.6},{"c":17,"y":133.04,"a":12.8,"b":87.2},{"c":17,"y":128.19,"a":19.1,"b":80.9},{"c":17,"y":123.98,"a":23.6,"b":76.4},{"c":17,"y":118.37,"a":25.4,"b":74.6},{"c":17,"y":110.71,"a":25.8,"b":74.2},{"c":17,"y":97.96,"a":26.8,"b":73.2},{"c":17,"y":85.2,"a":28,"b":72},{"c":17,"y":72.45,"a":30.1,"b":69.9},{"c":17,"y":59.69,"a":32.6,"b":67.4},{"c":17,"y":46.94,"a":35.4,"b":64.6},{"c":17,"y":34.18,"a":38.2,"b":61.8},{"c":17,"y":21.43,"a":40.1,"b":59.9},{"c":17,"y":8.67,"a":42.3,"b":57.7},{"c":17,"y":0,"a":43.6,"b":56.4},
{"c":18,"y":162,"a":0,"b":100},{"c":18,"y":141.96,"a":0,"b":100},{"c":18,"y":138.13,"a":6.4,"b":93.6},{"c":18,"y":133.67,"a":12.8,"b":87.2},{"c":18,"y":128.95,"a":19.1,"b":80.9},{"c":18,"y":124.23,"a":24.2,"b":75.8},{"c":18,"y":118.37,"a":26.3,"b":73.7},{"c":18,"y":110.71,"a":26.8,"b":73.2},{"c":18,"y":97.96,"a":27.8,"b":72.2},{"c":18,"y":85.2,"a":29.1,"b":70.9},{"c":18,"y":72.45,"a":31.1,"b":68.9},{"c":18,"y":59.69,"a":33.7,"b":66.3},{"c":18,"y":46.94,"a":36.4,"b":63.6},{"c":18,"y":34.18,"a":39,"b":61},{"c":18,"y":21.43,"a":40.9,"b":59.1},{"c":18,"y":8.67,"a":43.1,"b":56.9},{"c":18,"y":0,"a":44.1,"b":55.9},
{"c":19,"y":162,"a":0,"b":100},{"c":19,"y":142.6,"a":0,"b":100},{"c":19,"y":138.77,"a":6.4,"b":93.6},{"c":19,"y":134.31,"a":12.8,"b":87.2},{"c":19,"y":129.72,"a":19.1,"b":80.9},{"c":19,"y":124.49,"a":24.9,"b":75.1},{"c":19,"y":118.37,"a":27.2,"b":72.8},{"c":19,"y":110.71,"a":27.7,"b":72.3},{"c":19,"y":97.96,"a":28.9,"b":71.1},{"c":19,"y":85.2,"a":30.2,"b":69.8},{"c":19,"y":72.45,"a":32.2,"b":67.8},{"c":19,"y":59.69,"a":34.7,"b":65.3},{"c":19,"y":46.94,"a":37.3,"b":62.7},{"c":19,"y":34.18,"a":39.9,"b":60.1},{"c":19,"y":21.43,"a":41.8,"b":58.2},{"c":19,"y":8.67,"a":43.8,"b":56.2},{"c":19,"y":0,"a":44.7,"b":55.3},
{"c":20,"y":162,"a":0,"b":100},{"c":20,"y":143.24,"a":0,"b":100},{"c":20,"y":139.41,"a":6.4,"b":93.6},{"c":20,"y":134.95,"a":12.8,"b":87.2},{"c":20,"y":130.48,"a":19.1,"b":80.9},{"c":20,"y":124.74,"a":25.5,"b":74.5},{"c":20,"y":118.37,"a":28.1,"b":71.9},{"c":20,"y":110.71,"a":28.7,"b":71.3},{"c":20,"y":97.96,"a":30,"b":70},{"c":20,"y":85.2,"a":31.3,"b":68.7},{"c":20,"y":72.45,"a":33.2,"b":66.8},{"c":20,"y":59.69,"a":35.7,"b":64.3},{"c":20,"y":46.94,"a":38.3,"b":61.7},{"c":20,"y":34.18,"a":40.8,"b":59.2},{"c":20,"y":21.43,"a":42.7,"b":57.3},{"c":20,"y":8.67,"a":44.6,"b":55.4},{"c":20,"y":0,"a":45.3,"b":54.7}
],
"lg":[
{"c":0,"lo":-0.5,"hi":0},{"c":1,"lo":0,"hi":1},{"c":2,"lo":1,"hi":2},{"c":3,"lo":2,"hi":3},{"c":4,"lo":3,"hi":4},{"c":5,"lo":4,"hi":5},{"c":6,"lo":5,"hi":6},{"c":7,"lo":6,"hi":7},{"c":8,"lo":7,"hi":8},{"c":9,"lo":8,"hi":9},{"c":10,"lo":9,"hi":10},{"c":11,"lo":10,"hi":11},{"c":12,"lo":11,"hi":12},{"c":13,"lo":12,"hi":13},{"c":14,"lo":13,"hi":14},{"c":15,"lo":14,"hi":15},{"c":16,"lo":15,"hi":16},{"c":17,"lo":16,"hi":17},{"c":18,"lo":17,"hi":18},{"c":19,"lo":18,"hi":19},{"c":20,"lo":19,"hi":19.5}
],
"lb":[
{"u":19,"t":"1.200×10","e":"−3"},{"u":18,"t":"1.142×10","e":"−3"},{"u":17,"t":"1.084×10","e":"−3"},{"u":16,"t":"1.026×10","e":"−3"},
{"u":15,"t":"9.684×10","e":"−4"},{"u":14,"t":"9.105×10","e":"−4"},{"u":13,"t":"8.526×10","e":"−4"},{"u":12,"t":"7.947×10","e":"−4"},
{"u":11,"t":"7.368×10","e":"−4"},{"u":10,"t":"6.789×10","e":"−4"},{"u":9,"t":"6.211×10","e":"−4"},{"u":8,"t":"5.632×10","e":"−4"},
{"u":7,"t":"5.053×10","e":"−4"},{"u":6,"t":"4.474×10","e":"−4"},{"u":5,"t":"3.895×10","e":"−4"},{"u":4,"t":"3.316×10","e":"−4"},
{"u":3,"t":"2.737×10","e":"−4"},{"u":2,"t":"2.158×10","e":"−4"},{"u":1,"t":"1.579×10","e":"−4"},{"u":0,"t":"1.000×10","e":"−4"}
],
"tt":[{"u":21.08,"t":"oxygen mass transfer"},{"u":20.03,"t":"coefficient (m/s)"}]
},
"hconcat":[
{"width":650,"height":1298,"layer":[
{"data":{"name":"h1"},"mark":{"type":"area","orient":"horizontal","clip":true},"encoding":{"y":{"field":"y","type":"quantitative","scale":{"domain":[0,200],"nice":false,"zero":false},"axis":null},"x":{"field":"a","type":"quantitative","scale":{"domain":[0,100],"nice":false,"zero":false},"axis":{"title":"290 K","titleFont":"Liberation Serif","titleFontSize":55,"titleFontWeight":"normal","titleColor":"#111111","titlePadding":75,"labels":false,"ticks":false,"domain":false,"grid":false}},"x2":{"field":"b"},"color":{"field":"c","type":"ordinal","scale":{"domain":[0,1,2,3,4,5,6,7,8,9,10,11,12,13,14,15,16,17,18,19,20],"range":["#0000ff","#0033ff","#0066ff","#0099ff","#00ccff","#00ffff","#00ffcc","#00ff99","#00ff66","#00ee22","#00ee00","#00e800","#00ee11","#66ff00","#ccff00","#ffff00","#ffcc00","#ff9900","#ff6600","#ff3300","#ff0000"]},"legend":null},"detail":{"field":"g"}}},
{"data":{"name":"v1"},"mark":{"type":"area","orient":"vertical","clip":true},"encoding":{"x":{"field":"x","type":"quantitative","scale":{"domain":[0,100],"nice":false,"zero":false},"axis":{"title":"290 K","titleFont":"Liberation Serif","titleFontSize":55,"titleFontWeight":"normal","titleColor":"#111111","titlePadding":75,"labels":false,"ticks":false,"domain":false,"grid":false}},"y":{"field":"l","type":"quantitative","scale":{"domain":[0,200],"nice":false,"zero":false},"axis":null},"y2":{"datum":200},"color":{"field":"c","type":"ordinal","scale":{"domain":[0,1,2,3,4,5,6,7,8,9,10,11,12,13,14,15,16,17,18,19,20],"range":["#0000ff","#0033ff","#0066ff","#0099ff","#00ccff","#00ffff","#00ffcc","#00ff99","#00ff66","#00ee22","#00ee00","#00e800","#00ee11","#66ff00","#ccff00","#ffff00","#ffcc00","#ff9900","#ff6600","#ff3300","#ff0000"]},"legend":null},"detail":{"field":"g"}}},
{"data":{"name":"iface"},"mark":{"type":"area","orient":"vertical","clip":true},"encoding":{"x":{"field":"x","type":"quantitative","scale":{"domain":[0,100],"nice":false,"zero":false},"axis":{"title":"290 K","titleFont":"Liberation Serif","titleFontSize":55,"titleFontWeight":"normal","titleColor":"#111111","titlePadding":75,"labels":false,"ticks":false,"domain":false,"grid":false}},"y":{"field":"l","type":"quantitative","scale":{"domain":[0,200],"nice":false,"zero":false},"axis":null},"y2":{"datum":200},"color":{"field":"c","type":"ordinal","scale":{"domain":[0,1,2,3,4,5,6,7,8,9,10,11,12,13,14,15,16,17,18,19,20],"range":["#0000ff","#0033ff","#0066ff","#0099ff","#00ccff","#00ffff","#00ffcc","#00ff99","#00ff66","#00ee22","#00ee00","#00e800","#00ee11","#66ff00","#ccff00","#ffff00","#ffcc00","#ff9900","#ff6600","#ff3300","#ff0000"]},"legend":null},"detail":{"field":"g"}}}
]},
{"width":650,"height":1298,"layer":[
{"data":{"name":"h2"},"mark":{"type":"area","orient":"horizontal","clip":true},"encoding":{"y":{"field":"y","type":"quantitative","scale":{"domain":[0,200],"nice":false,"zero":false},"axis":null},"x":{"field":"a","type":"quantitative","scale":{"domain":[0,100],"nice":false,"zero":false},"axis":{"title":"300 K","titleFont":"Liberation Serif","titleFontSize":55,"titleFontWeight":"normal","titleColor":"#111111","titlePadding":75,"labels":false,"ticks":false,"domain":false,"grid":false}},"x2":{"field":"b"},"color":{"field":"c","type":"ordinal","scale":{"domain":[0,1,2,3,4,5,6,7,8,9,10,11,12,13,14,15,16,17,18,19,20],"range":["#0000ff","#0033ff","#0066ff","#0099ff","#00ccff","#00ffff","#00ffcc","#00ff99","#00ff66","#00ee22","#00ee00","#00e800","#00ee11","#66ff00","#ccff00","#ffff00","#ffcc00","#ff9900","#ff6600","#ff3300","#ff0000"]},"legend":null},"detail":{"field":"g"}}},
{"data":{"name":"v2"},"mark":{"type":"area","orient":"vertical","clip":true},"encoding":{"x":{"field":"x","type":"quantitative","scale":{"domain":[0,100],"nice":false,"zero":false},"axis":{"title":"300 K","titleFont":"Liberation Serif","titleFontSize":55,"titleFontWeight":"normal","titleColor":"#111111","titlePadding":75,"labels":false,"ticks":false,"domain":false,"grid":false}},"y":{"field":"l","type":"quantitative","scale":{"domain":[0,200],"nice":false,"zero":false},"axis":null},"y2":{"datum":200},"color":{"field":"c","type":"ordinal","scale":{"domain":[0,1,2,3,4,5,6,7,8,9,10,11,12,13,14,15,16,17,18,19,20],"range":["#0000ff","#0033ff","#0066ff","#0099ff","#00ccff","#00ffff","#00ffcc","#00ff99","#00ff66","#00ee22","#00ee00","#00e800","#00ee11","#66ff00","#ccff00","#ffff00","#ffcc00","#ff9900","#ff6600","#ff3300","#ff0000"]},"legend":null},"detail":{"field":"g"}}},
{"data":{"name":"iface"},"mark":{"type":"area","orient":"vertical","clip":true},"encoding":{"x":{"field":"x","type":"quantitative","scale":{"domain":[0,100],"nice":false,"zero":false},"axis":{"title":"300 K","titleFont":"Liberation Serif","titleFontSize":55,"titleFontWeight":"normal","titleColor":"#111111","titlePadding":75,"labels":false,"ticks":false,"domain":false,"grid":false}},"y":{"field":"l","type":"quantitative","scale":{"domain":[0,200],"nice":false,"zero":false},"axis":null},"y2":{"datum":200},"color":{"field":"c","type":"ordinal","scale":{"domain":[0,1,2,3,4,5,6,7,8,9,10,11,12,13,14,15,16,17,18,19,20],"range":["#0000ff","#0033ff","#0066ff","#0099ff","#00ccff","#00ffff","#00ffcc","#00ff99","#00ff66","#00ee22","#00ee00","#00e800","#00ee11","#66ff00","#ccff00","#ffff00","#ffcc00","#ff9900","#ff6600","#ff3300","#ff0000"]},"legend":null},"detail":{"field":"g"}}}
]},
{"width":650,"height":1298,"layer":[
{"data":{"name":"h3"},"mark":{"type":"area","orient":"horizontal","clip":true},"encoding":{"y":{"field":"y","type":"quantitative","scale":{"domain":[0,200],"nice":false,"zero":false},"axis":null},"x":{"field":"a","type":"quantitative","scale":{"domain":[0,100],"nice":false,"zero":false},"axis":{"title":"310 K","titleFont":"Liberation Serif","titleFontSize":55,"titleFontWeight":"normal","titleColor":"#111111","titlePadding":75,"labels":false,"ticks":false,"domain":false,"grid":false}},"x2":{"field":"b"},"color":{"field":"c","type":"ordinal","scale":{"domain":[0,1,2,3,4,5,6,7,8,9,10,11,12,13,14,15,16,17,18,19,20],"range":["#0000ff","#0033ff","#0066ff","#0099ff","#00ccff","#00ffff","#00ffcc","#00ff99","#00ff66","#00ee22","#00ee00","#00e800","#00ee11","#66ff00","#ccff00","#ffff00","#ffcc00","#ff9900","#ff6600","#ff3300","#ff0000"]},"legend":null},"detail":{"field":"g"}}},
{"data":{"name":"v3"},"mark":{"type":"area","orient":"vertical","clip":true},"encoding":{"x":{"field":"x","type":"quantitative","scale":{"domain":[0,100],"nice":false,"zero":false},"axis":{"title":"310 K","titleFont":"Liberation Serif","titleFontSize":55,"titleFontWeight":"normal","titleColor":"#111111","titlePadding":75,"labels":false,"ticks":false,"domain":false,"grid":false}},"y":{"field":"l","type":"quantitative","scale":{"domain":[0,200],"nice":false,"zero":false},"axis":null},"y2":{"datum":200},"color":{"field":"c","type":"ordinal","scale":{"domain":[0,1,2,3,4,5,6,7,8,9,10,11,12,13,14,15,16,17,18,19,20],"range":["#0000ff","#0033ff","#0066ff","#0099ff","#00ccff","#00ffff","#00ffcc","#00ff99","#00ff66","#00ee22","#00ee00","#00e800","#00ee11","#66ff00","#ccff00","#ffff00","#ffcc00","#ff9900","#ff6600","#ff3300","#ff0000"]},"legend":null},"detail":{"field":"g"}}},
{"data":{"name":"iface"},"mark":{"type":"area","orient":"vertical","clip":true},"encoding":{"x":{"field":"x","type":"quantitative","scale":{"domain":[0,100],"nice":false,"zero":false},"axis":{"title":"310 K","titleFont":"Liberation Serif","titleFontSize":55,"titleFontWeight":"normal","titleColor":"#111111","titlePadding":75,"labels":false,"ticks":false,"domain":false,"grid":false}},"y":{"field":"l","type":"quantitative","scale":{"domain":[0,200],"nice":false,"zero":false},"axis":null},"y2":{"datum":200},"color":{"field":"c","type":"ordinal","scale":{"domain":[0,1,2,3,4,5,6,7,8,9,10,11,12,13,14,15,16,17,18,19,20],"range":["#0000ff","#0033ff","#0066ff","#0099ff","#00ccff","#00ffff","#00ffcc","#00ff99","#00ff66","#00ee22","#00ee00","#00e800","#00ee11","#66ff00","#ccff00","#ffff00","#ffcc00","#ff9900","#ff6600","#ff3300","#ff0000"]},"legend":null},"detail":{"field":"g"}}}
]},
{"width":650,"height":1298,"layer":[
{"data":{"name":"h4"},"mark":{"type":"area","orient":"horizontal","clip":true},"encoding":{"y":{"field":"y","type":"quantitative","scale":{"domain":[0,200],"nice":false,"zero":false},"axis":null},"x":{"field":"a","type":"quantitative","scale":{"domain":[0,100],"nice":false,"zero":false},"axis":{"title":"320 K","titleFont":"Liberation Serif","titleFontSize":55,"titleFontWeight":"normal","titleColor":"#111111","titlePadding":75,"labels":false,"ticks":false,"domain":false,"grid":false}},"x2":{"field":"b"},"color":{"field":"c","type":"ordinal","scale":{"domain":[0,1,2,3,4,5,6,7,8,9,10,11,12,13,14,15,16,17,18,19,20],"range":["#0000ff","#0033ff","#0066ff","#0099ff","#00ccff","#00ffff","#00ffcc","#00ff99","#00ff66","#00ee22","#00ee00","#00e800","#00ee11","#66ff00","#ccff00","#ffff00","#ffcc00","#ff9900","#ff6600","#ff3300","#ff0000"]},"legend":null},"detail":{"field":"g"}}},
{"data":{"name":"v4"},"mark":{"type":"area","orient":"vertical","clip":true},"encoding":{"x":{"field":"x","type":"quantitative","scale":{"domain":[0,100],"nice":false,"zero":false},"axis":{"title":"320 K","titleFont":"Liberation Serif","titleFontSize":55,"titleFontWeight":"normal","titleColor":"#111111","titlePadding":75,"labels":false,"ticks":false,"domain":false,"grid":false}},"y":{"field":"l","type":"quantitative","scale":{"domain":[0,200],"nice":false,"zero":false},"axis":null},"y2":{"datum":200},"color":{"field":"c","type":"ordinal","scale":{"domain":[0,1,2,3,4,5,6,7,8,9,10,11,12,13,14,15,16,17,18,19,20],"range":["#0000ff","#0033ff","#0066ff","#0099ff","#00ccff","#00ffff","#00ffcc","#00ff99","#00ff66","#00ee22","#00ee00","#00e800","#00ee11","#66ff00","#ccff00","#ffff00","#ffcc00","#ff9900","#ff6600","#ff3300","#ff0000"]},"legend":null},"detail":{"field":"g"}}},
{"data":{"name":"iface"},"mark":{"type":"area","orient":"vertical","clip":true},"encoding":{"x":{"field":"x","type":"quantitative","scale":{"domain":[0,100],"nice":false,"zero":false},"axis":{"title":"320 K","titleFont":"Liberation Serif","titleFontSize":55,"titleFontWeight":"normal","titleColor":"#111111","titlePadding":75,"labels":false,"ticks":false,"domain":false,"grid":false}},"y":{"field":"l","type":"quantitative","scale":{"domain":[0,200],"nice":false,"zero":false},"axis":null},"y2":{"datum":200},"color":{"field":"c","type":"ordinal","scale":{"domain":[0,1,2,3,4,5,6,7,8,9,10,11,12,13,14,15,16,17,18,19,20],"range":["#0000ff","#0033ff","#0066ff","#0099ff","#00ccff","#00ffff","#00ffcc","#00ff99","#00ff66","#00ee22","#00ee00","#00e800","#00ee11","#66ff00","#ccff00","#ffff00","#ffcc00","#ff9900","#ff6600","#ff3300","#ff0000"]},"legend":null},"detail":{"field":"g"}}}
]},
{"width":620,"height":1393,"layer":[
{"data":{"name":"lg"},"mark":{"type":"rect","stroke":"#1e1e1e","strokeWidth":2},"encoding":{"x":{"datum":192,"type":"quantitative","scale":{"domain":[0,620],"nice":false,"zero":false},"axis":null},"x2":{"datum":273},"y":{"field":"lo","type":"quantitative","scale":{"domain":[-0.5,21.317],"nice":false,"zero":false},"axis":null},"y2":{"field":"hi"},"color":{"field":"c","type":"ordinal","scale":{"domain":[0,1,2,3,4,5,6,7,8,9,10,11,12,13,14,15,16,17,18,19,20],"range":["#0000ff","#0033ff","#0066ff","#0099ff","#00ccff","#00ffff","#00ffcc","#00ff99","#00ff66","#00ee22","#00ee00","#00e800","#00ee11","#66ff00","#ccff00","#ffff00","#ffcc00","#ff9900","#ff6600","#ff3300","#ff0000"]},"legend":null}}},
{"data":{"name":"lb"},"mark":{"type":"text","align":"left","baseline":"alphabetic","dy":27,"font":"Liberation Sans","fontSize":52,"color":"#222222"},"encoding":{"x":{"datum":317,"type":"quantitative","scale":{"domain":[0,620],"nice":false,"zero":false},"axis":null},"y":{"field":"u","type":"quantitative","scale":{"domain":[-0.5,21.317],"nice":false,"zero":false},"axis":null},"text":{"field":"t"}}},
{"data":{"name":"lb"},"mark":{"type":"text","align":"left","baseline":"alphabetic","dy":7,"font":"Liberation Sans","fontSize":30,"color":"#222222"},"encoding":{"x":{"datum":537,"type":"quantitative","scale":{"domain":[0,620],"nice":false,"zero":false},"axis":null},"y":{"field":"u","type":"quantitative","scale":{"domain":[-0.5,21.317],"nice":false,"zero":false},"axis":null},"text":{"field":"e"}}},
{"data":{"name":"tt"},"mark":{"type":"text","align":"center","baseline":"alphabetic","font":"Liberation Serif","fontSize":55,"color":"#222222"},"encoding":{"x":{"datum":364,"type":"quantitative","scale":{"domain":[0,620],"nice":false,"zero":false},"axis":null},"y":{"field":"u","type":"quantitative","scale":{"domain":[-0.5,21.317],"nice":false,"zero":false},"axis":null},"text":{"field":"t"}}}
]}
]
}
